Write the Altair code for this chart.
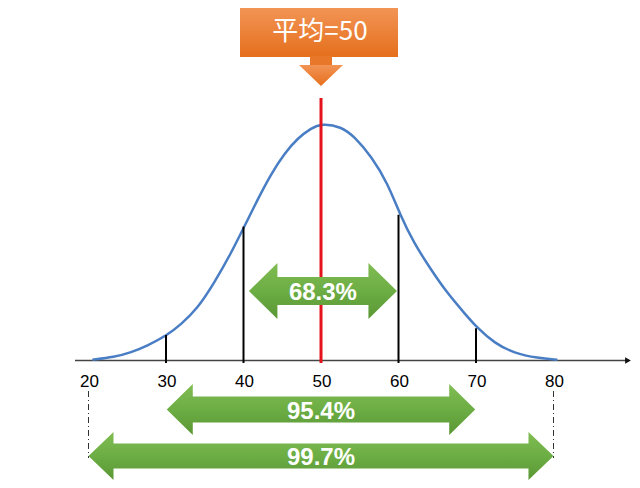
import altair as alt
import pandas as pd

# ---------------- data ----------------
curve_x = [20.5, 23.3, 25.5, 27.6, 30.2, 31.9, 34.1, 36.2, 38.4, 40.1, 41.8, 43.5,
           45.3, 47.0, 48.7, 50.1, 52.6, 54.3, 56.5, 58.6, 60.2, 62.0, 64.2, 66.3,
           68.5, 70.2, 72.4, 74.9, 78.0, 80.5]
curve_y = [0.003, 0.014, 0.034, 0.062, 0.108, 0.151, 0.221, 0.326, 0.453, 0.565, 0.678, 0.784,
           0.875, 0.938, 0.980, 1.000, 0.987, 0.945, 0.861, 0.748, 0.615, 0.495, 0.383, 0.284,
           0.200, 0.136, 0.073, 0.031, 0.010, 0.003]
sigma_x = [30, 40, 60, 70]
sigma_y = [0.108, 0.565, 0.615, 0.136]
tick_values = [20, 30, 40, 50, 60, 70, 80]
band_lo = [40.7, 30.1, 20.0]
band_hi = [59.8, 69.9, 80.0]
band_labels = ["68.3%", "95.4%", "99.7%"]
mean_value = 50
mean_label = "平均=50"

# ---------------- layout (page pixels) ----------------
PX_PER_UNIT = 7.75
X50_PX = 321
BASE_PX = 360.5
PEAK_PX = 237
W, H = 624, 472


def vx(px):
    return 50 + (px - X50_PX) / PX_PER_UNIT


def vy(py):
    return (BASE_PX - py) / PEAK_PX


xs = alt.Scale(domain=[vx(8), vx(632)], nice=False, zero=False)
ys = alt.Scale(domain=[vy(480), vy(8)], nice=False, zero=False)


def X(f="x"):
    return alt.X(f"{f}:Q", scale=xs, axis=None)


def Y(f="y"):
    return alt.Y(f"{f}:Q", scale=ys, axis=None, stack=None)


green = alt.Gradient(
    gradient="linear",
    stops=[alt.GradientStop(color="#80bd52", offset=0),
           alt.GradientStop(color="#6cad44", offset=0.5),
           alt.GradientStop(color="#5a9734", offset=1)],
    x1=0, x2=0, y1=0, y2=1)
orange = alt.Gradient(
    gradient="linear",
    stops=[alt.GradientStop(color="#f29455", offset=0),
           alt.GradientStop(color="#e56f1c", offset=1)],
    x1=0, x2=0, y1=0, y2=1)

# axis line
axis_df = pd.DataFrame({"x": [vx(75)], "x2": [vx(629)], "y": [0.0]})
axis_line = alt.Chart(axis_df).mark_rule(color="#444444", strokeWidth=1.5).encode(
    x=X(), x2="x2:Q", y=Y())
axis_head = alt.Chart(pd.DataFrame({"x": [vx(628)], "y": [0.0]})).mark_point(
    shape="triangle-right", size=45, filled=True, color="#111111", opacity=1).encode(x=X(), y=Y())

# curve
curve_df = pd.DataFrame({"x": curve_x, "y": curve_y})
curve = alt.Chart(curve_df).mark_line(color="#4a7ec4", strokeWidth=2.5,
                                      interpolate="basis").encode(x=X(), y=Y())

# sigma rules
sig_df = pd.DataFrame({"x": sigma_x, "y": sigma_y, "y0": [vy(363)] * len(sigma_x)})
sig_rules = alt.Chart(sig_df).mark_rule(color="black", strokeWidth=2).encode(
    x=X(), y=Y(), y2="y0:Q")

# mean line
mean_df = pd.DataFrame({"x": [mean_value], "y": [vy(98)], "y0": [vy(363)]})
mean_rule = alt.Chart(mean_df).mark_rule(color="#e3121b", strokeWidth=3).encode(
    x=X(), y=Y(), y2="y0:Q")

# tick labels
tick_df = pd.DataFrame({"x": tick_values, "label": [str(v) for v in tick_values],
                        "y": [vy(382)] * len(tick_values)})
tick_text = alt.Chart(tick_df).mark_text(font="Liberation Sans", fontSize=17,
                                         color="black", baseline="middle", dx=1).encode(
    x=X(), y=Y(), text="label:N")

# dash-dot guides at the outer band
guide_df = pd.DataFrame({"x": [band_lo[2], band_hi[2]], "y": [vy(391)] * 2, "y0": [vy(458)] * 2})
guides = alt.Chart(guide_df).mark_rule(color="#333333", strokeWidth=1,
                                       strokeDash=[6, 3, 1, 3]).encode(x=X(), y=Y(), y2="y0:Q")

# double arrows
geo = [  # center y, head half, shaft half, head length (px)
    (291, 28, 14, 28.5),
    (409.5, 25.5, 13, 26),
    (456, 24, 12.5, 25),
]
rows = []
eps = 0.001
for i, (lo, hi) in enumerate(zip(band_lo, band_hi)):
    cy, hh, sh, hl = geo[i]
    L = hl / PX_PER_UNIT
    xs_pts = [lo, lo + L, lo + L + eps, hi - L - eps, hi - L, hi]
    tops = [cy, cy - hh, cy - sh, cy - sh, cy - hh, cy]
    bots = [cy, cy + hh, cy + sh, cy + sh, cy + hh, cy]
    for xx, t, b in zip(xs_pts, tops, bots):
        rows.append({"band": band_labels[i], "x": xx, "y": vy(t), "y2": vy(b)})
arrow_df = pd.DataFrame(rows)
arrows = alt.Chart(arrow_df).mark_area(color=green, interpolate="linear").encode(
    x=X(), y=Y(), y2="y2:Q", detail="band:N")

lab_y = [293, 412, 458]
lab_df = pd.DataFrame({"x": [(a + b) / 2 for a, b in zip(band_lo, band_hi)],
                       "y": [vy(v) for v in lab_y], "label": band_labels})
band_text = alt.Chart(lab_df).mark_text(font="Liberation Sans", fontSize=24, fontWeight="bold",
                                        color="white", baseline="middle").encode(
    x=X(), y=Y(), text="label:N")

# mean callout
box_df = pd.DataFrame({"x": [vx(240)], "x2": [vx(398)], "y": [vy(8)], "y2": [vy(57)]})
box = alt.Chart(box_df).mark_rect(color=orange).encode(x=X(), x2="x2:Q", y=Y(), y2="y2:Q")
stem_df = pd.DataFrame({"x": [vx(310)], "x2": [vx(332)], "y": [vy(56)], "y2": [vy(66)]})
stem = alt.Chart(stem_df).mark_rect(color="#e9772a").encode(x=X(), x2="x2:Q", y=Y(), y2="y2:Q")
tri_df = pd.DataFrame({"x": [vx(299), vx(321), vx(343)],
                       "y": [vy(65)] * 3, "y2": [vy(65), vy(86), vy(65)]})
tri = alt.Chart(tri_df).mark_area(color=orange, interpolate="linear").encode(
    x=X(), y=Y(), y2="y2:Q")
mean_text = alt.Chart(pd.DataFrame({"x": [vx(320)], "y": [vy(32)], "label": [mean_label]})).mark_text(
    font="Noto Sans CJK SC", fontSize=26, color="white", baseline="middle").encode(
    x=X(), y=Y(), text="label:N")

chart = alt.layer(
    axis_line, axis_head, curve, sig_rules, mean_rule, tick_text, guides,
    arrows, band_text, box, stem, tri, mean_text
).properties(
    width=W, height=H, padding=0,
    autosize=alt.AutoSizeParams(type="fit", contains="padding"),
    background="white",
).configure_view(strokeWidth=0)

chart.save("out.html", embed_options={"renderer": "svg", "actions": False})
